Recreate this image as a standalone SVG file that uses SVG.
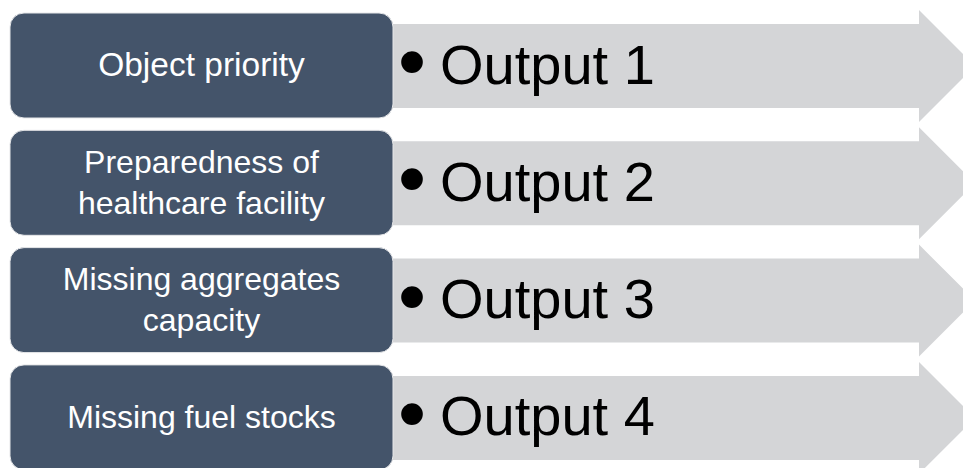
<svg xmlns="http://www.w3.org/2000/svg" width="963" height="468" viewBox="0 0 963 468">
  <defs>
    <style>
      .arrow { fill: #d4d5d7; }
      .box { fill: #44546a; stroke: #e6e7e9; stroke-width: 1; }
      .label { font-family: "Liberation Sans", Arial, sans-serif; font-size: 32px; fill: #ffffff; text-anchor: middle; }
      .big { font-size: 33.5px; }
      .out { font-family: "Liberation Sans", Arial, sans-serif; font-size: 56px; fill: #000000; }
      .bullet { font-family: "Liberation Sans", Arial, sans-serif; font-size: 80px; fill: #000000; text-anchor: middle; }
    </style>
    <!-- one block arrow, drawn with its row top at y=0 -->
    <path id="blockArrow" d="M380 11 H919 V-3 L975 53 L919 109 V95 H380 Z"/>
  </defs>
  <rect width="963" height="468" fill="#ffffff"/>

  <!-- arrows pointing right, behind the labels -->
  <g id="connectors">
    <use href="#blockArrow" class="arrow" transform="translate(0,13)"/>
    <use href="#blockArrow" class="arrow" transform="translate(0,130.3)"/>
    <use href="#blockArrow" class="arrow" transform="translate(0,247.6)"/>
    <use href="#blockArrow" class="arrow" transform="translate(0,364.9)"/>
  </g>

  <g id="row1" transform="translate(0,13)">
    <rect class="box" x="10" y="0" width="383" height="105" rx="14"/>
    <text class="label big" x="201.5" y="63">Object priority</text>
    <text class="bullet" x="412" y="76">•</text>
    <text class="out" x="440" y="70.5">Output 1</text>
  </g>

  <g id="row2" transform="translate(0,130.3)">
    <rect class="box" x="10" y="0" width="383" height="105" rx="14"/>
    <text class="label" x="201.5" y="42.5">Preparedness of</text>
    <text class="label" x="201.5" y="83.5">healthcare facility</text>
    <text class="bullet" x="412" y="76">•</text>
    <text class="out" x="440" y="70.5">Output 2</text>
  </g>

  <g id="row3" transform="translate(0,247.6)">
    <rect class="box" x="10" y="0" width="383" height="105" rx="14"/>
    <text class="label" x="201.5" y="42.5">Missing aggregates</text>
    <text class="label" x="201.5" y="83.5">capacity</text>
    <text class="bullet" x="412" y="76">•</text>
    <text class="out" x="440" y="70.5">Output 3</text>
  </g>

  <g id="row4" transform="translate(0,364.9)">
    <rect class="box" x="10" y="0" width="383" height="105" rx="14"/>
    <text class="label" x="201.5" y="63">Missing fuel stocks</text>
    <text class="bullet" x="412" y="76">•</text>
    <text class="out" x="440" y="70.5">Output 4</text>
  </g>
</svg>
